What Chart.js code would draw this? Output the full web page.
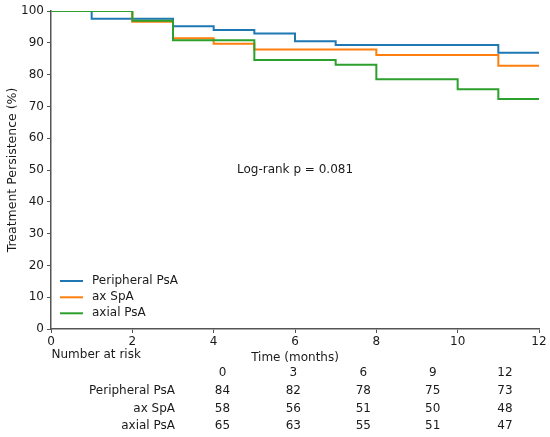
<!DOCTYPE html>
<html><head><meta charset="utf-8">
<script src="https://cdn.jsdelivr.net/npm/chart.js@4"></script>
<style>html,body{margin:0;padding:0;background:#fff}#wrap{width:550px;height:437px}</style>
</head><body><div id="wrap"><canvas id="c" width="550" height="437"></canvas></div>
<script>
// Kaplan-Meier step data (time in months, persistence %)
const peripheralTimes = [0, 1, 3, 4, 5, 6, 7, 11, 12];
const peripheralValues = [100, 97.6, 95.2, 94.0, 92.9, 90.5, 89.3, 86.9, 86.9];
const axSpaTimes = [0, 2, 3, 4, 5, 8, 11, 12];
const axSpaValues = [100, 96.6, 91.4, 89.7, 87.9, 86.2, 82.8, 82.8];
const axialTimes = [0, 2, 3, 5, 7, 8, 10, 11, 12];
const axialValues = [100, 96.9, 90.8, 84.6, 83.1, 78.5, 75.4, 72.3, 72.3];
const seriesNames = ['Peripheral PsA', 'ax SpA', 'axial PsA'];
const xTicks = [0, 2, 4, 6, 8, 10, 12];
const yTicks = [0, 10, 20, 30, 40, 50, 60, 70, 80, 90, 100];
// Number-at-risk table
const riskTimes = [0, 3, 6, 9, 12];
const riskPeripheral = [84, 82, 78, 75, 73];
const riskAxSpa = [58, 56, 51, 50, 48];
const riskAxial = [65, 63, 55, 51, 47];
const pText = 'Log-rank p = 0.081';

const colors = ['#1f77b4', '#ff7f0e', '#2ca02c'];
const FONT = "'DejaVu Sans', sans-serif";
const TXT = '#1a1a1a';
const AXC = '#555';

function pts(t, v) { return t.map((x, i) => ({x: x, y: v[i]})); }

const extras = {
  id: 'extras',
  afterDraw(chart) {
    const ctx = chart.ctx;
    const xs = chart.scales.x, ys = chart.scales.y;
    ctx.save();
    ctx.fillStyle = TXT;
    ctx.font = '12px ' + FONT;
    ctx.textBaseline = 'middle';
    // log-rank annotation
    ctx.textAlign = 'center';
    ctx.fillText(pText, xs.getPixelForValue(6), ys.getPixelForValue(50));
    // legend
    const ds = chart.data.datasets;
    const ly = [281, 297.3, 313.3];
    ds.forEach((d, i) => {
      ctx.strokeStyle = d.borderColor;
      ctx.lineWidth = 2;
      ctx.beginPath();
      ctx.moveTo(60, ly[i]); ctx.lineTo(83, ly[i]); ctx.stroke();
      ctx.textAlign = 'left';
      ctx.fillText(d.label, 92, ly[i]);
    });
    // number at risk table
    ctx.textAlign = 'left';
    ctx.fillText('Number at risk', 51.5, 355);
    const colX = [222.5, 293.3, 363.3, 432.7, 505];
    const rowY = [372.7, 391, 408.7, 426.3];
    ctx.textAlign = 'center';
    riskTimes.forEach((t, i) => ctx.fillText(String(t), colX[i], rowY[0]));
    const rows = [riskPeripheral, riskAxSpa, riskAxial];
    rows.forEach((r, j) => {
      ctx.textAlign = 'right';
      ctx.fillText(seriesNames[j], 175, rowY[j + 1]);
      ctx.textAlign = 'center';
      r.forEach((v, i) => ctx.fillText(String(v), colX[i], rowY[j + 1]));
    });
    ctx.restore();
  }
};

new Chart(document.getElementById('c'), {
  type: 'line',
  data: {
    datasets: [
      {label: seriesNames[0], data: pts(peripheralTimes, peripheralValues), borderColor: colors[0], order: 3},
      {label: seriesNames[1], data: pts(axSpaTimes, axSpaValues), borderColor: colors[1], order: 2},
      {label: seriesNames[2], data: pts(axialTimes, axialValues), borderColor: colors[2], order: 1}
    ].map(d => Object.assign(d, {stepped: 'before', borderWidth: 2, pointRadius: 0, fill: false, tension: 0, borderCapStyle: 'square'}))
  },
  options: {
    responsive: false,
    animation: false,
    devicePixelRatio: 1,
    layout: {padding: {left: 0, top: 11, right: 11, bottom: 72}},
    plugins: {legend: {display: false}, tooltip: {enabled: false}},
    scales: {
      x: {
        type: 'linear', min: 0, max: 12,
        afterBuildTicks: s => { s.ticks = xTicks.map(v => ({value: v})); },
        afterFit: s => { s.height = 36; },
        ticks: {color: TXT, font: {family: FONT, size: 12}, padding: 2, maxRotation: 0},
        grid: {display: true, drawOnChartArea: false, drawTicks: true, tickLength: 4, color: AXC, lineWidth: 1},
        border: {display: true, color: AXC, width: 1.5},
        title: {display: true, text: 'Time (months)', color: TXT, font: {family: FONT, size: 12}, padding: {top: 0, bottom: 0}}
      },
      y: {
        type: 'linear', min: 0, max: 100,
        afterBuildTicks: s => { s.ticks = yTicks.map(v => ({value: v})); },
        afterFit: s => { s.width = 51; },
        ticks: {color: TXT, font: {family: FONT, size: 12}, padding: 3},
        grid: {display: true, drawOnChartArea: false, drawTicks: true, tickLength: 4, color: AXC, lineWidth: 1},
        border: {display: true, color: AXC, width: 1.5},
        title: {display: true, text: 'Treatment Persistence (%)', color: TXT, font: {family: FONT, size: 12.5}, padding: {top: 5, bottom: 0}}
      }
    }
  },
  plugins: [extras]
});
</script></body></html>
